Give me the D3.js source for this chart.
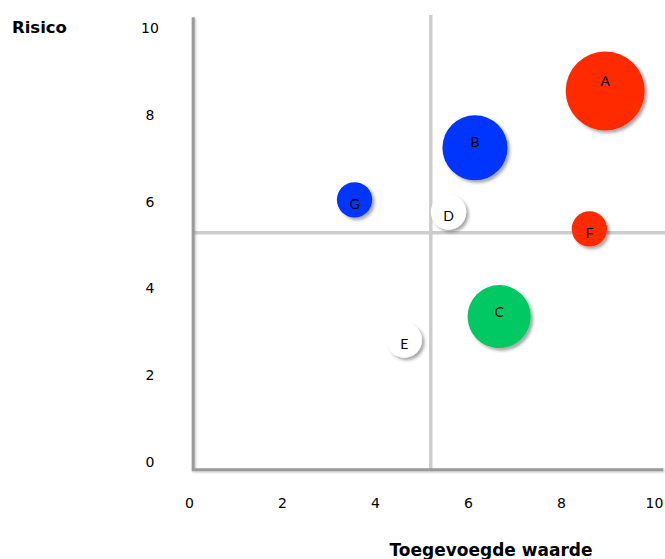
<!DOCTYPE html>
<html>
<head>
<meta charset="utf-8">
<script src="https://cdn.jsdelivr.net/npm/d3@7"></script>
<style>
  html, body { margin: 0; padding: 0; background: #fff; }
  svg { display: block; }
</style>
</head>
<body>
<svg id="chart" width="665" height="559"></svg>
<script>
// ---- data ----
const labels  = ["A", "B", "C", "D", "E", "F", "G"];
const xValues = [8.95, 6.15, 6.67, 5.58, 4.63, 8.61, 3.56];
const yValues = [8.55, 7.24, 3.35, 5.76, 2.81, 5.37, 6.04];
const sizes   = [10, 6.8, 6.4, 2, 2, 2, 2];
const colors  = ["#ff2a00", "#0036ff", "#00c864", "#ffffff", "#ffffff", "#ff2a00", "#0036ff"];
const xTicks  = [0, 2, 4, 6, 8, 10];
const yTicks  = [0, 2, 4, 6, 8, 10];
const quadrantX = 5.2;
const quadrantY = 5.28;
const xTitle = "Toegevoegde waarde";
const yTitle = "Risico";

// ---- scales ----
const x = d3.scaleLinear().domain([0, 10]).range([189, 654]);
const y = d3.scaleLinear().domain([0, 10]).range([462, 28]);
const r = d3.scaleSqrt().domain([0, 10]).range([0, 39.5]);

const svg = d3.select("#chart");
const defs = svg.append("defs");
const f = defs.append("filter").attr("id", "shadow")
  .attr("x", "-30%").attr("y", "-30%").attr("width", "160%").attr("height", "160%");
f.append("feDropShadow").attr("dx", 2.5).attr("dy", 2.5).attr("stdDeviation", 1.6)
  .attr("flood-color", "#000").attr("flood-opacity", 0.35);
const f2 = defs.append("filter").attr("id", "lineshadow")
  .attr("x", "-10%").attr("y", "-10%").attr("width", "120%").attr("height", "120%");
f2.append("feDropShadow").attr("dx", 1).attr("dy", 1).attr("stdDeviation", 0.8)
  .attr("flood-color", "#000").attr("flood-opacity", 0.25);

// quadrant lines
svg.append("line")
  .attr("x1", x(quadrantX)).attr("x2", x(quadrantX))
  .attr("y1", y(10.3)).attr("y2", y(-0.18))
  .attr("stroke", "#cdcdcd").attr("stroke-width", 3.5);
svg.append("line")
  .attr("x1", x(0.09)).attr("x2", 665)
  .attr("y1", y(quadrantY)).attr("y2", y(quadrantY))
  .attr("stroke", "#cdcdcd").attr("stroke-width", 3.5);

// main axis lines
const axisG = svg.append("g").attr("filter", "url(#lineshadow)");
axisG.append("path")
  .attr("d", `M${x(0.09)},${y(10.25)} L${x(0.09)},${y(-0.18)} L${x(10.2)},${y(-0.18)}`)
  .attr("fill", "none").attr("stroke", "#9a9a9a").attr("stroke-width", 3);

// ticks
const xAxis = svg.append("g").attr("transform", "translate(0,498)")
  .call(d3.axisBottom(x).tickValues(xTicks).tickSize(0).tickPadding(0));
xAxis.select(".domain").remove();
xAxis.selectAll("text").attr("font-family", "DejaVu Sans").attr("font-size", 14).attr("fill", "#000");

const yAxis = svg.append("g").attr("transform", "translate(150,0)")
  .call(d3.axisLeft(y).tickValues(yTicks).tickSize(0).tickPadding(0));
yAxis.select(".domain").remove();
yAxis.selectAll("text").attr("font-family", "DejaVu Sans").attr("font-size", 14)
  .attr("fill", "#000").attr("text-anchor", "middle");

// titles
svg.append("text").attr("x", 491).attr("y", 556).attr("text-anchor", "middle")
  .attr("font-family", "DejaVu Sans").attr("font-weight", "bold").attr("font-size", 17)
  .attr("fill", "#000").text(xTitle);
svg.append("text").attr("x", 12).attr("y", 33).attr("text-anchor", "start")
  .attr("font-family", "DejaVu Sans").attr("font-weight", "bold").attr("font-size", 16.5)
  .attr("fill", "#000").text(yTitle);

// bubbles
const data = labels.map((l, i) => ({ label: l, x: xValues[i], y: yValues[i], s: sizes[i], c: colors[i] }));
const b = svg.append("g").selectAll("g").data(data).join("g");
b.append("circle")
  .attr("cx", d => x(d.x)).attr("cy", d => y(d.y)).attr("r", d => r(d.s))
  .attr("fill", d => d.c).attr("filter", "url(#shadow)");
b.append("text")
  .attr("x", d => x(d.x))
  .attr("y", d => y(d.y) + 4 - (r(d.s) - 17.5) * 0.62)
  .attr("dy", "0.35em")
  .attr("text-anchor", "middle")
  .attr("font-family", "Lato, 'Open Sans', sans-serif").attr("font-size", 14)
  .attr("fill", "#000").text(d => d.label);
</script>
</body>
</html>
